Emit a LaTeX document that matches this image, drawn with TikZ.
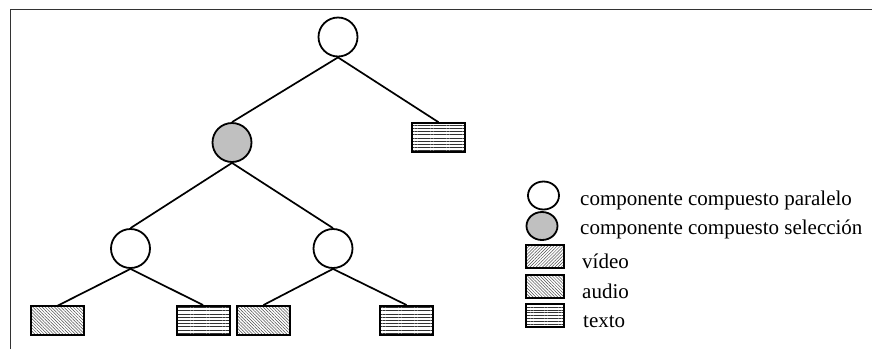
\documentclass[tikz,border=0pt]{standalone}
\usepackage{fontspec}
\setmainfont{Liberation Serif}
\usetikzlibrary{patterns.meta,shapes.geometric}
\definecolor{selgray}{HTML}{C0C0C0}
\definecolor{framegray}{HTML}{333333}
\tikzset{
  par/.style={circle,draw=black,line width=1.8pt,fill=white,minimum size=39pt,inner sep=0pt},
  sel/.style={par,fill=selgray},
  leaf/.style={rectangle,draw=black,line width=2pt,minimum width=53pt,minimum height=29pt,inner sep=0pt},
  vid/.style={pattern={Lines[angle=45,distance=2.2pt,line width=0.5pt]},pattern color=black!70},
  aud/.style={pattern={Lines[angle=-45,distance=2.2pt,line width=0.5pt]},pattern color=black!70},
  txt/.style={pattern={Lines[angle=0,distance=3.2pt,line width=0.6pt]},pattern color=black!80},
  edge/.style={line width=1.7pt},
  lab/.style={anchor=base west,inner sep=0pt,font=\fontsize{21}{24}\selectfont},
  legcirc/.style={ellipse,draw=black,line width=1.8pt,minimum width=31pt,minimum height=28pt,inner sep=0pt},
  legbox/.style={rectangle,draw=black,line width=2pt,minimum width=38pt,minimum height=23pt,inner sep=0pt}
}
\begin{document}
\begin{tikzpicture}[x=1pt,y=-1pt]
\useasboundingbox (0,0) rectangle (872,349);
% frame: top and left sides only
\draw[framegray,line width=1.2pt] (10.5,349) -- (10.5,9.5) -- (872,9.5);

% tree nodes
\node[par] (root) at (338,37) {};
\node[sel] (s) at (232,142.5) {};
\node[leaf,txt] (t0) at (438.5,137) {};
\node[par] (pl) at (130.5,248.5) {};
\node[par] (pr) at (333,248.5) {};
\node[leaf,aud] (b1) at (57.5,320.5) {};
\node[leaf,txt] (b2) at (203,320.5) {};
\node[leaf,aud] (b3) at (263.5,320.5) {};
\node[leaf,txt] (b4) at (406.5,320.5) {};

% connectors
\draw[edge] (root.south) -- (s.north);
\draw[edge] (root.south) -- (t0.north);
\draw[edge] (s.south) -- (pl.north);
\draw[edge] (s.south) -- (pr.north);
\draw[edge] (pl.south) -- (b1.north);
\draw[edge] (pl.south) -- (b2.north);
\draw[edge] (pr.south) -- (b3.north);
\draw[edge] (pr.south) -- (b4.north);

% legend
\node[legcirc,fill=white] (lc1) at (543.5,195.5) {};
\node[legcirc,fill=selgray] (lc2) at (542,226) {};
\node[legbox,vid] (lv) at (545,256.5) {};
\node[legbox,aud] (la) at (545,286.5) {};
\node[legbox,txt,pattern={Lines[angle=0,distance=2.8pt,line width=0.55pt]}] (lt) at (545,315.5) {};
\node[lab] (l1) at (580,205) {componente compuesto paralelo};
\node[lab] (l2) at (580,234) {componente compuesto selección};
\node[lab] (l3) at (582,268) {vídeo};
\node[lab] (l4) at (582,298) {audio};
\node[lab] (l5) at (583,327) {texto};
\end{tikzpicture}
\end{document}
